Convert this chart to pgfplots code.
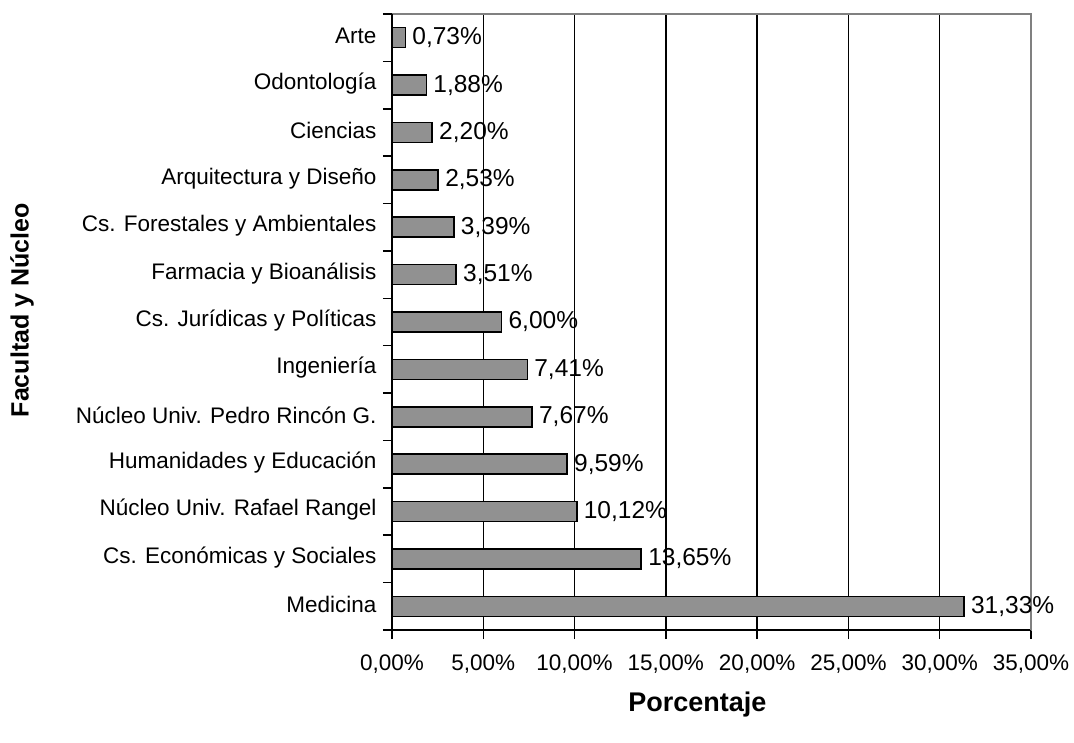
\documentclass[border=0pt]{standalone}
\usepackage{fontspec}
\setmainfont{Liberation Sans}
\usepackage{pgfplots}
\usepackage{pgfplotstable}
\pgfplotsset{compat=1.18}
\definecolor{barfill}{RGB}{145,145,145}
\pgfplotstableread{
i v lab
0 31.33 31,33
1 13.65 13,65
2 10.12 10,12
3 9.59 9,59
4 7.67 7,67
5 7.41 7,41
6 6.00 6,00
7 3.51 3,51
8 3.39 3,39
9 2.53 2,53
10 2.20 2,20
11 1.88 1,88
12 0.73 0,73
}\datatable
\begin{document}
\begin{tikzpicture}
\useasboundingbox (0,0) rectangle (1074pt,742pt);
\begin{axis}[
  at={(392pt,112pt)}, anchor=south west,
  scale only axis, width=639pt, height=616pt,
  xmin=0, xmax=35, ymin=-0.5, ymax=12.5,
  axis line style={draw=gray, line width=1.5pt},
  xtick={0,5,...,35},
  xticklabels={{0,00\%},{5,00\%},{10,00\%},{15,00\%},{20,00\%},{25,00\%},{30,00\%},{35,00\%}},
  xtick pos=bottom, ytick pos=left,
  tick align=outside,
  major tick length=9pt,
  xtick style={draw=black, line width=1.5pt},
  xmajorgrids,
  major grid style={draw=black, line width=1.4pt},
  ytick={0,...,12},
  yticklabels={Medicina, Cs. Económicas y Sociales, Núcleo Univ. Rafael Rangel, Humanidades y Educación, Núcleo Univ. Pedro Rincón G., Ingeniería, Cs. Jurídicas y Políticas, Farmacia y Bioanálisis, Cs. Forestales y Ambientales, Arquitectura y Diseño, Ciencias, Odontología, Arte},
  ytick style={draw=none},
  extra y ticks={-0.5,0.5,...,12.5},
  extra y tick labels={},
  extra y tick style={ytick style={draw=black, line width=1.5pt}, grid=none},
  tick label style={font=\fontsize{22.5}{26}\selectfont, text=black},
  y tick label style={xshift=-3pt, yshift=1.5pt},
  x tick label style={yshift=-12pt},
  xlabel={\textbf{Porcentaje}},
  xlabel style={at={(axis description cs:0.478,0)}, anchor=center, yshift=-75pt, font=\fontsize{27}{30}\selectfont},
  ylabel={\textbf{Facultad y Núcleo}},
  ylabel style={at={(axis description cs:-0.579,0.519)}, anchor=center, rotate=0, font=\fontsize{25}{30}\selectfont},
  clip=false,
]
\addplot[xbar, bar width=20pt, fill=barfill, draw=black, line width=1.5pt,
  point meta=explicit symbolic,
  nodes near coords={\pgfplotspointmeta\%},
  every node near coord/.append style={anchor=west, xshift=3pt, font=\fontsize{24.5}{28}\selectfont, text=black}]
  table[x=v, y=i, meta=lab] {\datatable};
\draw[black, line width=1.5pt] (axis cs:0,-0.5) -- (axis cs:0,12.5);
\draw[black, line width=1.5pt] (axis cs:0,-0.5) -- (axis cs:35,-0.5);
\draw[gray, line width=1.5pt] (axis cs:35,-0.5) -- (axis cs:35,12.5);
\end{axis}
\end{tikzpicture}
\end{document}
